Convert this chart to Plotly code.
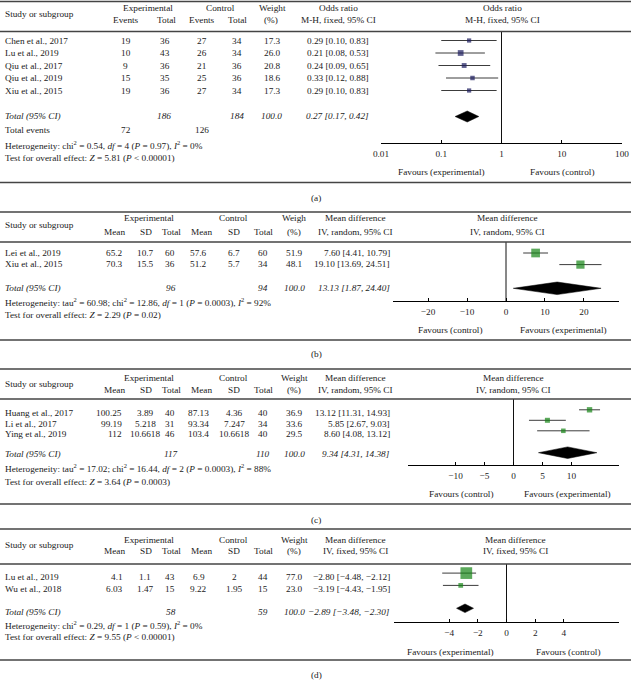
import plotly.graph_objects as go

W, H = 631, 680
FONT = "Liberation Serif"
FS = 9.25
TXT = "#1a1a1a"

# ---------------- data ----------------
# (a) Odds ratio, M-H, fixed
a_studies = ["Chen et al., 2017", "Lu et al., 2019", "Qiu et al., 2017", "Qiu et al., 2019", "Xiu et al., 2015"]
a_exp_events = [19, 10, 9, 15, 19]
a_exp_total = [36, 43, 36, 35, 36]
a_ctl_events = [27, 26, 21, 25, 27]
a_ctl_total = [34, 34, 36, 36, 34]
a_weight = [17.3, 26.0, 20.8, 18.6, 17.3]
a_est = [0.29, 0.21, 0.24, 0.33, 0.29]
a_lo = [0.10, 0.08, 0.09, 0.12, 0.10]
a_hi = [0.83, 0.53, 0.65, 0.88, 0.83]
a_tot_n = [186, 184]
a_tot_weight = 100.0
a_tot_ci = [0.27, 0.17, 0.42]
a_tot_events = [72, 126]
a_het = "Heterogeneity: chi<sup>2</sup> = 0.54, <i>df</i> = 4 (<i>P</i> = 0.97), <i>I</i><sup>2</sup> = 0%"
a_test = "Test for overall effect: <i>Z</i> = 5.81 (<i>P</i> &lt; 0.00001)"
a_ticks = [0.01, 0.1, 1, 10, 100]
a_ticktext = ["0.01", "0.1", "1", "10", "100"]
a_favours = ["Favours (experimental)", "Favours (control)"]

# (b) Mean difference, IV, random
b_studies = ["Lei et al., 2019", "Xiu et al., 2015"]
b_exp_mean = [65.2, 70.3]
b_exp_sd = [10.7, 15.5]
b_exp_n = [60, 36]
b_ctl_mean = [57.6, 51.2]
b_ctl_sd = [6.7, 5.7]
b_ctl_n = [60, 34]
b_weight = [51.9, 48.1]
b_est = [7.60, 19.10]
b_lo = [4.41, 13.69]
b_hi = [10.79, 24.51]
b_tot_n = [96, 94]
b_tot_weight = 100.0
b_tot_ci = [13.13, 1.87, 24.40]
b_het = ("Heterogeneity: tau<sup>2</sup> = 60.98; chi<sup>2</sup> = 12.86, <i>df</i> = 1 "
         "(<i>P</i> = 0.0003), <i>I</i><sup>2</sup> = 92%")
b_test = "Test for overall effect: <i>Z</i> = 2.29 (<i>P</i> = 0.02)"
b_ticks = [-20, -10, 0, 10, 20]
b_favours = ["Favours (control)", "Favours (experimental)"]

# (c) Mean difference, IV, random
c_studies = ["Huang et al., 2017", "Li et al., 2017", "Ying et al., 2019"]
c_exp_mean = [100.25, 99.19, 112]
c_exp_sd = [3.89, 5.218, 10.6618]
c_exp_n = [40, 31, 46]
c_ctl_mean = [87.13, 93.34, 103.4]
c_ctl_sd = [4.36, 7.247, 10.6618]
c_ctl_n = [40, 34, 40]
c_weight = [36.9, 33.6, 29.5]
c_est = [13.12, 5.85, 8.60]
c_lo = [11.31, 2.67, 4.08]
c_hi = [14.93, 9.03, 13.12]
c_tot_n = [117, 110]
c_tot_weight = 100.0
c_tot_ci = [9.34, 4.31, 14.38]
c_het = ("Heterogeneity: tau<sup>2</sup> = 17.02; chi<sup>2</sup> = 16.44, <i>df</i> = 2 "
         "(<i>P</i> = 0.0003), <i>I</i><sup>2</sup> = 88%")
c_test = "Test for overall effect: <i>Z</i> = 3.64 (<i>P</i> = 0.0003)"
c_ticks = [-10, -5, 0, 5, 10]
c_favours = ["Favours (control)", "Favours (experimental)"]

# (d) Mean difference, IV, fixed
d_studies = ["Lu et al., 2019", "Wu et al., 2018"]
d_exp_mean = [4.1, 6.03]
d_exp_sd = [1.1, 1.47]
d_exp_n = [43, 15]
d_ctl_mean = [6.9, 9.22]
d_ctl_sd = [2, 1.95]
d_ctl_n = [44, 15]
d_weight = [77.0, 23.0]
d_est = [-2.80, -3.19]
d_lo = [-4.48, -4.43]
d_hi = [-2.12, -1.95]
d_tot_n = [58, 59]
d_tot_weight = 100.0
d_tot_ci = [-2.89, -3.48, -2.30]
d_het = "Heterogeneity: chi<sup>2</sup> = 0.29, <i>df</i> = 1 (<i>P</i> = 0.59), <i>I</i><sup>2</sup> = 0%"
d_test = "Test for overall effect: <i>Z</i> = 9.55 (<i>P</i> &lt; 0.00001)"
d_ticks = [-4, -2, 0, 2, 4]
d_favours = ["Favours (experimental)", "Favours (control)"]

# ---------------- helpers ----------------
fig = go.Figure()
shapes = []
anns = []
NAVY = "#1b1b5e"
GREEN = "#158515"
CI_COL = "#3c3c3c"


def T(x, y, s, anchor="center"):
    anns.append(dict(x=x / W, y=y, xref="paper", yref="y", text=s, showarrow=False,
                     xanchor=anchor, yanchor="middle",
                     font=dict(family=FONT, size=FS, color=TXT)))


def hline(y):
    shapes.append(dict(type="line", xref="paper", yref="y", x0=0, x1=1, y0=y, y1=y,
                       line=dict(color="#444444", width=1.3)))


def neg(s):
    return s.replace("-", "\u2212")


def fmt_ci(e, l, h):
    return neg(f"{e:.2f} [{l:.2f}, {h:.2f}]")


def it(s):
    return f"<i>{s}</i>"


def forest(ax, est, lo, hi, w, ys, color, k, null, y_top, y_axis):
    fig.add_trace(go.Scatter(x=[null, null], y=[y_top, y_axis], mode="lines",
                             line=dict(color="#111111", width=1), xaxis=ax, yaxis="y",
                             hoverinfo="skip", showlegend=False, cliponaxis=False))
    for l, h, y in zip(lo, hi, ys):
        fig.add_trace(go.Scatter(x=[l, h], y=[y, y], mode="lines",
                                 line=dict(color=CI_COL, width=1), xaxis=ax, yaxis="y",
                                 hoverinfo="skip", showlegend=False))
    fig.add_trace(go.Scatter(x=est, y=ys, mode="markers",
                             marker=dict(symbol="square", size=[k * wi ** 0.75 for wi in w],
                                         color=color, line=dict(width=0)),
                             xaxis=ax, yaxis="y", hoverinfo="skip", showlegend=False))


def diamond(ax, ci, y, hh):
    e, l, h = ci
    fig.add_trace(go.Scatter(x=[l, e, h, e, l], y=[y, y - hh, y, y + hh, y], mode="lines",
                             fill="toself", fillcolor="black", line=dict(color="black", width=0.5),
                             xaxis=ax, yaxis="y", hoverinfo="skip", showlegend=False))


def axis_cfg(x0, x1, rng, y_axis, tickvals, ticktext=None, log=False):
    d = dict(domain=[x0 / W, x1 / W], range=rng, anchor="free", position=1 - y_axis / H,
             showline=True, linecolor="black", linewidth=1, ticks="inside", ticklen=3,
             tickwidth=1, tickcolor="black", tickvals=tickvals, showgrid=False,
             zeroline=False, tickfont=dict(family=FONT, size=FS, color=TXT),
             automargin=False, fixedrange=True, side="bottom", ticklabelstandoff=2)
    if log:
        d["type"] = "log"
    if ticktext is not None:
        d["ticktext"] = ticktext
    return d


# ---------------- panel (a) ----------------
hline(1.5)
hline(31.5)
hline(182.5)
T(3, 14, "Study or subgroup", "left")
T(148, 8, "Experimental"); T(220, 8, "Control"); T(272, 8, "Weight")
T(126, 20, "Events"); T(166, 20, "Total"); T(202, 20, "Events"); T(237, 20, "Total"); T(271, 20, "(%)")
T(338, 8, "Odds ratio"); T(338, 20, "M-H, fixed, 95% CI")
T(502, 8, "Odds ratio"); T(502, 20, "M-H, fixed, 95% CI")
a_rows = [40.5 + 12.5 * i for i in range(len(a_studies))]
for i, y in enumerate(a_rows):
    T(3, y, a_studies[i], "left")
    T(126, y, str(a_exp_events[i])); T(165, y, str(a_exp_total[i]))
    T(202, y, str(a_ctl_events[i])); T(237, y, str(a_ctl_total[i]))
    T(272, y, f"{a_weight[i]:.1f}")
    T(371, y, fmt_ci(a_est[i], a_lo[i], a_hi[i]), "right")
T(3, 116, it("Total (95% CI)"), "left")
T(164, 116, it(a_tot_n[0])); T(237, 116, it(a_tot_n[1])); T(271, 116, it(f"{a_tot_weight:.1f}"))
T(371, 116, it(fmt_ci(*a_tot_ci)), "right")
T(3, 130, "Total events", "left"); T(126, 130, str(a_tot_events[0])); T(202, 130, str(a_tot_events[1]))
T(3, 144.5, a_het, "left")
T(3, 158, a_test, "left")
forest("x", a_est, a_lo, a_hi, a_weight, a_rows, NAVY, 0.5, 1, 31.5, 143)
diamond("x", a_tot_ci, 116.5, 5.5)
T(441, 172, a_favours[0]); T(562, 172, a_favours[1])
T(316, 198, "(a)")

# ---------------- generic continuous panel ----------------
def cont_panel(label, top, hdr_line, bottom, h1, h2, hdr_weight, eff_method, fh_x,
               studies, em, esd, en, cm, csd, cn, wts, est, lo, hi, rows, mdy,
               tot_y, tot_n, tot_w, tot_ci, ddy, dhh, het_y, het, test_y, test,
               ax, x_axis_y, fav, fav_x, fav_y, lab_y, col, em_right=None, k=0.45):
    hline(top); hline(hdr_line); hline(bottom)
    T(3, (h1 + h2) / 2, "Study or subgroup", "left")
    T(149, h1, "Experimental"); T(233, h1, "Control"); T(294, h1, hdr_weight)
    T(114, h2, "Mean"); T(146, h2, "SD"); T(171, h2, "Total")
    T(201, h2, "Mean"); T(234, h2, "SD"); T(263, h2, "Total"); T(294, h2, "(%)")
    T(355, h1, "Mean difference"); T(355, h2, eff_method)
    T(fh_x, h1, "Mean difference"); T(fh_x, h2, eff_method)
    for i, y in enumerate(rows):
        T(3, y, studies[i], "left")
        if em_right is None:
            T(114, y, str(em[i]))
        else:
            T(em_right, y, str(em[i]), "right")
        T(145, y, str(esd[i])); T(170, y, str(en[i]))
        T(199, y, str(cm[i])); T(234, y, str(csd[i])); T(263, y, str(cn[i]))
        T(294, y, f"{wts[i]:.1f}")
        T(392, y, fmt_ci(est[i], lo[i], hi[i]), "right")
    T(3, tot_y, it("Total (95% CI)"), "left")
    T(171, tot_y, it(tot_n[0])); T(263, tot_y, it(tot_n[1])); T(294, tot_y, it(f"{tot_w:.1f}"))
    T(392, tot_y, it(fmt_ci(*tot_ci)), "right")
    T(3, het_y, het, "left")
    T(3, test_y, test, "left")
    forest(ax, est, lo, hi, wts, [r + mdy for r in rows], col, k, 0, hdr_line, x_axis_y)
    diamond(ax, tot_ci, tot_y + ddy, dhh)
    T(fav_x[0], fav_y, fav[0]); T(fav_x[1], fav_y, fav[1])
    T(316, lab_y, label)


cont_panel("(b)", 212, 242, 340, 218, 232, "Weigh", "IV, random, 95% CI", 507,
           b_studies, b_exp_mean, b_exp_sd, b_exp_n, b_ctl_mean, b_ctl_sd, b_ctl_n, b_weight,
           b_est, b_lo, b_hi, [252.5 + 11.6 * i for i in range(len(b_studies))], 0.5,
           288, b_tot_n, b_tot_weight, b_tot_ci, 0.3, 6.3, 302, b_het, 315, b_test,
           "x2", 301, b_favours, [450, 563], 330, 354, GREEN, k=0.45)

cont_panel("(c)", 369, 399, 504, 377.5, 389.5, "Weight", "IV, random, 95% CI", 513,
           c_studies, c_exp_mean, c_exp_sd, c_exp_n, c_ctl_mean, c_ctl_sd, c_ctl_n, c_weight,
           c_est, c_lo, c_hi, [413.3 + 10.5 * i for i in range(len(c_studies))], -3.5,
           454, c_tot_n, c_tot_weight, c_tot_ci, -1.3, 5.8, 468, c_het, 482, c_test,
           "x3", 465, c_favours, [461, 567], 494, 520, GREEN, em_right=124, k=0.36)

cont_panel("(d)", 529, 564, 660, 539.5, 550.5, "Weight", "IV, fixed, 95% CI", 515,
           d_studies, d_exp_mean, d_exp_sd, d_exp_n, d_ctl_mean, d_ctl_sd, d_ctl_n, d_weight,
           d_est, d_lo, d_hi, [576.7 + 12.3 * i for i in range(len(d_studies))], -3.6,
           611.7, d_tot_n, d_tot_weight, d_tot_ci, -3.4, 4.3, 625, d_het, 637, d_test,
           "x4", 622, d_favours, [450, 568], 652, 674.5, GREEN, em_right=125, k=0.45)

fig.update_layout(
    width=W, height=H, margin=dict(l=0, r=0, t=0, b=0, pad=0),
    paper_bgcolor="white", plot_bgcolor="rgba(0,0,0,0)", showlegend=False,
    shapes=shapes, annotations=anns,
    yaxis=dict(range=[H, 0], domain=[0, 1], visible=False, fixedrange=True),
    xaxis=axis_cfg(381, 622, [-2, 2], 143, a_ticks, a_ticktext, log=True),
    xaxis2=axis_cfg(393, 619, [-29, 29], 301, b_ticks),
    xaxis3=axis_cfg(408, 619, [-18.2, 18.2], 465, c_ticks),
    xaxis4=axis_cfg(394, 619, [-7.84, 7.84], 622, d_ticks),
)

fig.write_html("out.html", config={"displayModeBar": False, "staticPlot": True},
               post_script="document.body.style.margin='0';")
